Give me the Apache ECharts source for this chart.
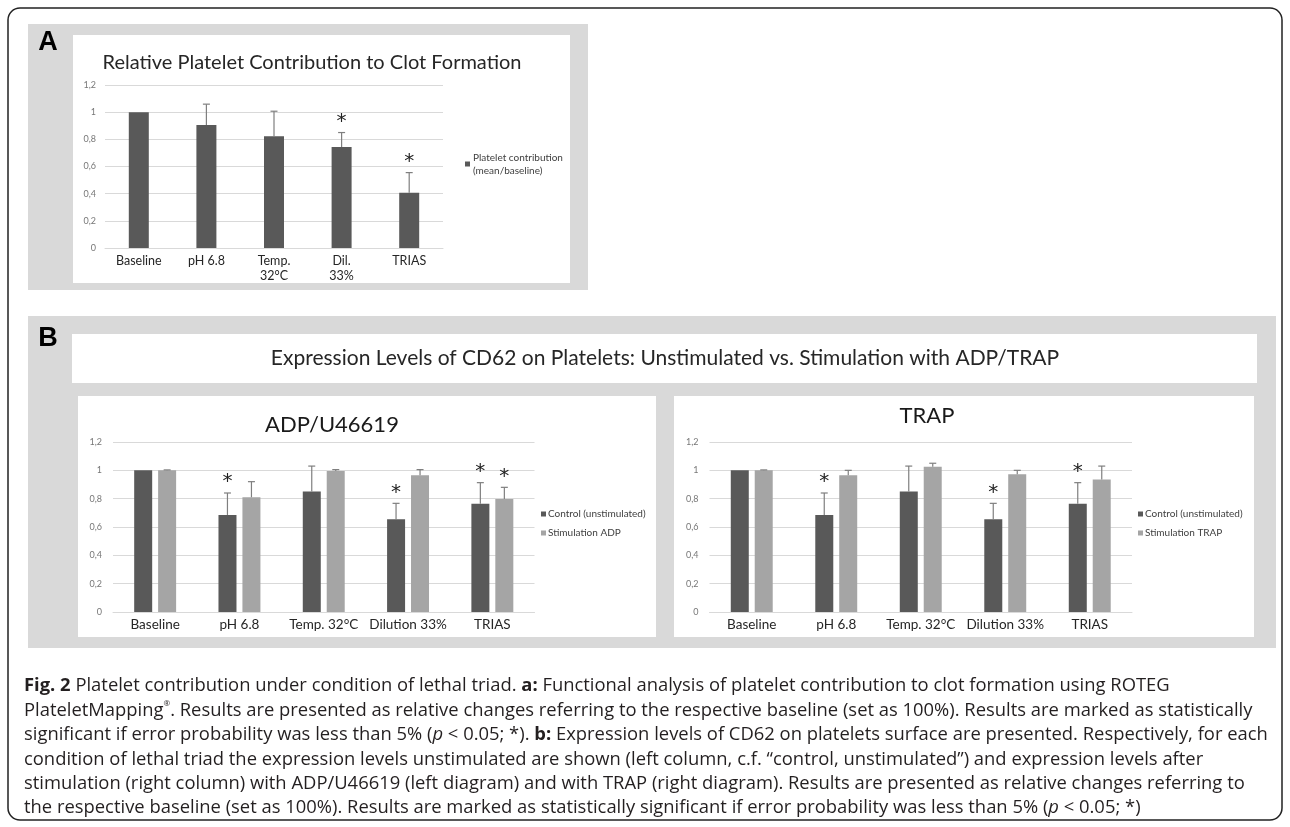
<!DOCTYPE html>
<html>
<head>
<meta charset="utf-8">
<script src="https://cdn.jsdelivr.net/npm/echarts@6/dist/echarts.min.js"></script>
<style>
html,body{margin:0;padding:0;background:#fff;}
#main{width:1290px;height:827px;}
</style>
</head>
<body>
<div id="main"></div>
<script>
// ---------- DATA ----------
const catA = ['Baseline', 'pH 6.8', 'Temp.\n32°C', 'Dil.\n33%', 'TRIAS'];
const plateletMean = [1.0, 0.905, 0.822, 0.743, 0.406];
const plateletErr  = [0, 0.154, 0.185, 0.107, 0.149];
const plateletSig  = [0, 0, 0, 1, 1];

const catB = ['Baseline', 'pH 6.8', 'Temp. 32°C', 'Dilution 33%', 'TRIAS'];
const controlMean = [1.0, 0.685, 0.85, 0.654, 0.764];
const controlErr  = [0, 0.155, 0.18, 0.113, 0.149];
const controlSig  = [0, 1, 0, 1, 1];

const adpMean = [1.0, 0.81, 0.995, 0.965, 0.797];
const adpErr  = [0.003, 0.11, 0.01, 0.04, 0.083];
const adpSig  = [0, 0, 0, 0, 1];

const trapMean = [1.0, 0.965, 1.025, 0.972, 0.936];
const trapErr  = [0.003, 0.035, 0.025, 0.028, 0.094];
const trapSig  = [0, 0, 0, 0, 0];

const yMin = 0, yMax = 1.2, yStep = 0.2;

// ---------- STYLE ----------
const DARK = '#595959', LIGHT = '#a5a5a5', GRIDC = '#d9d9d9', ERRC = '#7f7f7f';
const CH_FONT = 'Lato, "Open Sans", sans-serif';
const CAP_FONT = '"Open Sans", sans-serif';

function fmtY(v) {
  if (v === 0) return '0';
  return (Math.round(v * 10) / 10).toString().replace('.', ',');
}

function errSeries(name, idx, mean, err, sig, offset) {
  return {
    name: name, type: 'custom', xAxisIndex: idx, yAxisIndex: idx, z: 5,
    silent: true,
    encode: { x: 0, y: 1 },
    data: mean.map((m, i) => [i, m, err[i], sig[i]]),
    renderItem: function (params, api) {
      const i = api.value(0), v = api.value(1), e = api.value(2), s = api.value(3);
      const p0 = api.coord([i, v]);
      const p1 = api.coord([i, v + e]);
      const x = p0[0] + offset;
      const children = [];
      if (e > 0) {
        children.push({ type: 'line', shape: { x1: x, y1: p0[1], x2: x, y2: p1[1] }, style: { stroke: ERRC, lineWidth: 1.2 } });
        children.push({ type: 'line', shape: { x1: x - 3.5, y1: p1[1], x2: x + 3.5, y2: p1[1] }, style: { stroke: ERRC, lineWidth: 1.2 } });
      }
      if (s) {
        children.push({ type: 'text', style: { text: '*', x: x, y: p1[1] - 11, align: 'center', verticalAlign: 'middle', font: '20px "DejaVu Sans", sans-serif', fill: '#222' } });
      }
      return { type: 'group', children: children };
    }
  };
}

function yAx(idx) {
  return {
    gridIndex: idx, type: 'value', min: yMin, max: yMax, interval: yStep,
    axisLine: { show: false }, axisTick: { show: false },
    splitLine: { lineStyle: { color: GRIDC, width: 1 } },
    axisLabel: { formatter: fmtY, color: '#777', fontSize: 9, fontFamily: CH_FONT, margin: idx === 0 ? 9 : 11 }
  };
}
function xAx(idx, cats, fs, lh) {
  return {
    gridIndex: idx, type: 'category', data: cats,
    axisLine: { lineStyle: { color: GRIDC, width: 1 } }, axisTick: { show: false },
    axisLabel: { color: '#262626', fontSize: fs, lineHeight: lh, fontFamily: CH_FONT, margin: 5, interval: 0 }
  };
}

const captionLines = [
  '{b|Fig. 2} Platelet contribution under condition of lethal triad. {b|a:} Functional analysis of platelet contribution to clot formation using ROTEG',
  'PlateletMapping{sup|®}. Results are presented as relative changes referring to the respective baseline (set as 100%). Results are marked as statistically',
  'significant if error probability was less than 5% ({i|p} < 0.05; *). {b|b:} Expression levels of CD62 on platelets surface are presented. Respectively, for each',
  'condition of lethal triad the expression levels unstimulated are shown (left column, c.f. \u201ccontrol, unstimulated\u201d) and expression levels after',
  'stimulation (right column) with ADP/U46619 (left diagram) and with TRAP (right diagram). Results are presented as relative changes referring to',
  'the respective baseline (set as 100%). Results are marked as statistically significant if error probability was less than 5% ({i|p} < 0.05; *)'
];
const capY = [686, 711, 735, 760, 784, 808];
const CAP_SIZE = 18.4;

const graphics = [
  { type: 'rect', z: -10, shape: { x: 8, y: 8, width: 1274, height: 812, r: 12 }, style: { fill: '#fff', stroke: '#222', lineWidth: 1.5 } },
  { type: 'rect', z: -9, shape: { x: 28, y: 24, width: 560, height: 266 }, style: { fill: '#d9d9d9' } },
  { type: 'rect', z: -8, shape: { x: 73, y: 35, width: 497, height: 248 }, style: { fill: '#fff' } },
  { type: 'rect', z: -9, shape: { x: 28, y: 316, width: 1248, height: 332 }, style: { fill: '#d9d9d9' } },
  { type: 'rect', z: -8, shape: { x: 72, y: 334, width: 1185, height: 49 }, style: { fill: '#fff' } },
  { type: 'rect', z: -8, shape: { x: 78, y: 396, width: 578, height: 241 }, style: { fill: '#fff' } },
  { type: 'rect', z: -8, shape: { x: 674, y: 396, width: 580, height: 241 }, style: { fill: '#fff' } },
  { type: 'text', z: 10, style: { text: 'A', x: 48, y: 43, align: 'center', verticalAlign: 'middle', font: 'bold 27px "Liberation Sans", Arial, sans-serif', fill: '#000' } },
  { type: 'text', z: 10, style: { text: 'B', x: 48, y: 339, align: 'center', verticalAlign: 'middle', font: 'bold 27px "Liberation Sans", Arial, sans-serif', fill: '#000' } },
  { type: 'text', z: 10, style: { text: 'Relative Platelet Contribution to Clot Formation', x: 312, y: 63, align: 'center', verticalAlign: 'middle', font: '20px ' + CH_FONT, fill: '#262626' } },
  { type: 'text', z: 10, style: { text: 'Expression Levels of CD62 on Platelets: Unstimulated vs. Stimulation with ADP/TRAP', x: 665, y: 358, align: 'center', verticalAlign: 'middle', font: '21px ' + CH_FONT, fill: '#262626' } },
  { type: 'text', z: 10, style: { text: 'ADP/U46619', x: 332, y: 425, align: 'center', verticalAlign: 'middle', font: '22px ' + CH_FONT, fill: '#1a1a1a' } },
  { type: 'text', z: 10, style: { text: 'TRAP', x: 927, y: 416, align: 'center', verticalAlign: 'middle', font: '22px ' + CH_FONT, fill: '#1a1a1a' } }
];
captionLines.forEach((t, k) => {
  graphics.push({
    type: 'text', z: 10,
    style: {
      text: t, x: 24, y: capY[k], align: 'left', verticalAlign: 'middle',
      fontFamily: CAP_FONT, fontSize: CAP_SIZE, fill: '#231f20', lineHeight: 22,
      rich: {
        b: { fontWeight: 'bold', fontFamily: CAP_FONT, fontSize: CAP_SIZE, fill: '#231f20' },
        i: { fontStyle: 'italic', fontFamily: CAP_FONT, fontSize: CAP_SIZE, fill: '#231f20' },
        sup: { fontSize: 8, fontFamily: CAP_FONT, verticalAlign: 'top', lineHeight: 22, fill: '#231f20' }
      }
    }
  });
});

const option = {
  animation: false,
  textStyle: { fontFamily: CH_FONT },
  graphic: { elements: graphics },
  grid: [
    { left: 105, top: 85, width: 338, height: 163, containLabel: false },
    { left: 113, top: 442, width: 421.5, height: 170, containLabel: false },
    { left: 709.5, top: 442, width: 422.5, height: 170, containLabel: false }
  ],
  xAxis: [xAx(0, catA, 12.5, 15), xAx(1, catB, 13.5, 15), xAx(2, catB, 13.5, 15)],
  yAxis: [yAx(0), yAx(1), yAx(2)],
  legend: [
    { data: ['Platelet contribution\n(mean/baseline)'], left: 460, top: 146, orient: 'vertical', icon: 'rect', itemWidth: 5, itemHeight: 5, itemGap: 4, selectedMode: false,
      textStyle: { fontSize: 10, lineHeight: 13, color: '#404040', fontFamily: CH_FONT, padding: [0, 0, 0, -2] } },
    { data: ['Control (unstimulated)', 'Stimulation ADP'], left: 536, top: 503, orient: 'vertical', icon: 'rect', itemWidth: 5, itemHeight: 5, itemGap: 7, selectedMode: false,
      textStyle: { fontSize: 10, lineHeight: 12, color: '#404040', fontFamily: CH_FONT, padding: [0, 0, 0, -3] } },
    { data: ['Control (unstimulated)', 'Stimulation TRAP'], left: 1133, top: 503, orient: 'vertical', icon: 'rect', itemWidth: 5, itemHeight: 5, itemGap: 7, selectedMode: false,
      textStyle: { fontSize: 10, lineHeight: 12, color: '#404040', fontFamily: CH_FONT, padding: [0, 0, 0, -3] } }
  ],
  series: [
    { name: 'Platelet contribution\n(mean/baseline)', type: 'bar', xAxisIndex: 0, yAxisIndex: 0, barWidth: 20, data: plateletMean, itemStyle: { color: DARK } },
    errSeries('errA', 0, plateletMean, plateletErr, plateletSig, 0),

    { name: 'Control (unstimulated)', type: 'bar', xAxisIndex: 1, yAxisIndex: 1, barWidth: 18, barGap: '33%', data: controlMean, itemStyle: { color: DARK } },
    { name: 'Stimulation ADP', type: 'bar', xAxisIndex: 1, yAxisIndex: 1, barWidth: 18, barGap: '33%', data: adpMean, itemStyle: { color: LIGHT } },
    errSeries('errB1c', 1, controlMean, controlErr, controlSig, -12),
    errSeries('errB1s', 1, adpMean, adpErr, adpSig, 12),

    { name: 'Control (unstimulated)', type: 'bar', xAxisIndex: 2, yAxisIndex: 2, barWidth: 18, barGap: '33%', data: controlMean, itemStyle: { color: DARK } },
    { name: 'Stimulation TRAP', type: 'bar', xAxisIndex: 2, yAxisIndex: 2, barWidth: 18, barGap: '33%', data: trapMean, itemStyle: { color: LIGHT } },
    errSeries('errB2c', 2, controlMean, controlErr, controlSig, -12),
    errSeries('errB2s', 2, trapMean, trapErr, trapSig, 12)
  ]
};

const chart = echarts.init(document.getElementById('main'), null, { renderer: 'canvas', width: 1290, height: 827 });
chart.setOption(option);
</script>
</body>
</html>
